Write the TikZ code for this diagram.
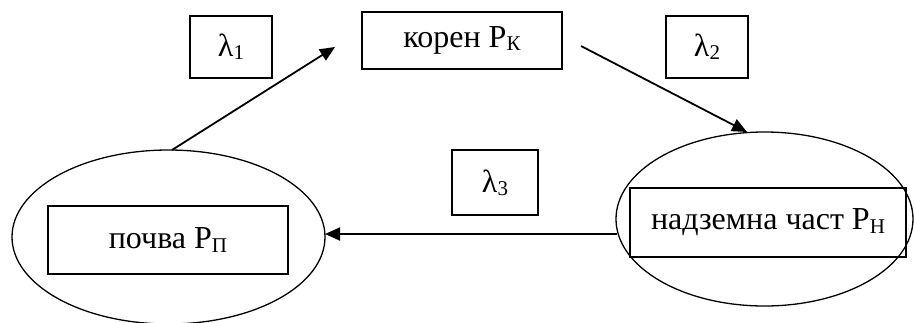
\documentclass[tikz,border=0pt]{standalone}
\usepackage{fontspec}
\setmainfont{Liberation Serif}
\usetikzlibrary{arrows.meta,shapes.geometric}
\newcommand{\sbx}[1]{\raisebox{-0.1em}{\fontsize{21}{24}\selectfont #1}}
\begin{document}
\begin{tikzpicture}[x=1pt,y=-1pt,
  box/.style={draw, line width=1.3pt, rectangle, inner sep=0pt, font=\fontsize{32}{36}\selectfont},
  ell/.style={draw, line width=1.3pt, ellipse, inner sep=0pt},
  conn/.style={line width=1.8pt, -{Triangle[length=15pt,width=13pt]}}]
\useasboundingbox (0,0) rectangle (914,322);
\node[ell, minimum width=313pt, minimum height=174pt] (lell) at (168.5,237) {};
\node[ell, minimum width=297pt, minimum height=174pt] (rell) at (764.5,219) {};
\node[box, minimum width=200pt, minimum height=57pt] (koren) at (462,40.5) {корен P\sbx{К}};
\node[box, minimum width=82pt, minimum height=62pt] (l1) at (231,47) {λ\sbx{1}};
\node[box, minimum width=82pt, minimum height=62pt] (l2) at (707,47) {λ\sbx{2}};
\node[box, minimum width=86pt, minimum height=65pt] (l3) at (495,182.5) {λ\sbx{3}};
\node[box, minimum width=240pt, minimum height=68pt] (pochva) at (168,240) {почва P\sbx{П}};
\node[box, minimum width=276pt, minimum height=69pt] (nad) at (768,222.5) {надземна част P\sbx{Н}};
\coordinate (a1s) at (172,150);
\coordinate (a1e) at (335,47);
\coordinate (a2s) at (581,46);
\coordinate (a2e) at (747,132);
\coordinate (a3s) at (617,234);
\coordinate (a3e) at (325,234);
\draw[conn] (a1s) -- (a1e);
\draw[conn] (a2s) -- (a2e);
\draw[conn] (a3s) -- (a3e);
\end{tikzpicture}
\end{document}
